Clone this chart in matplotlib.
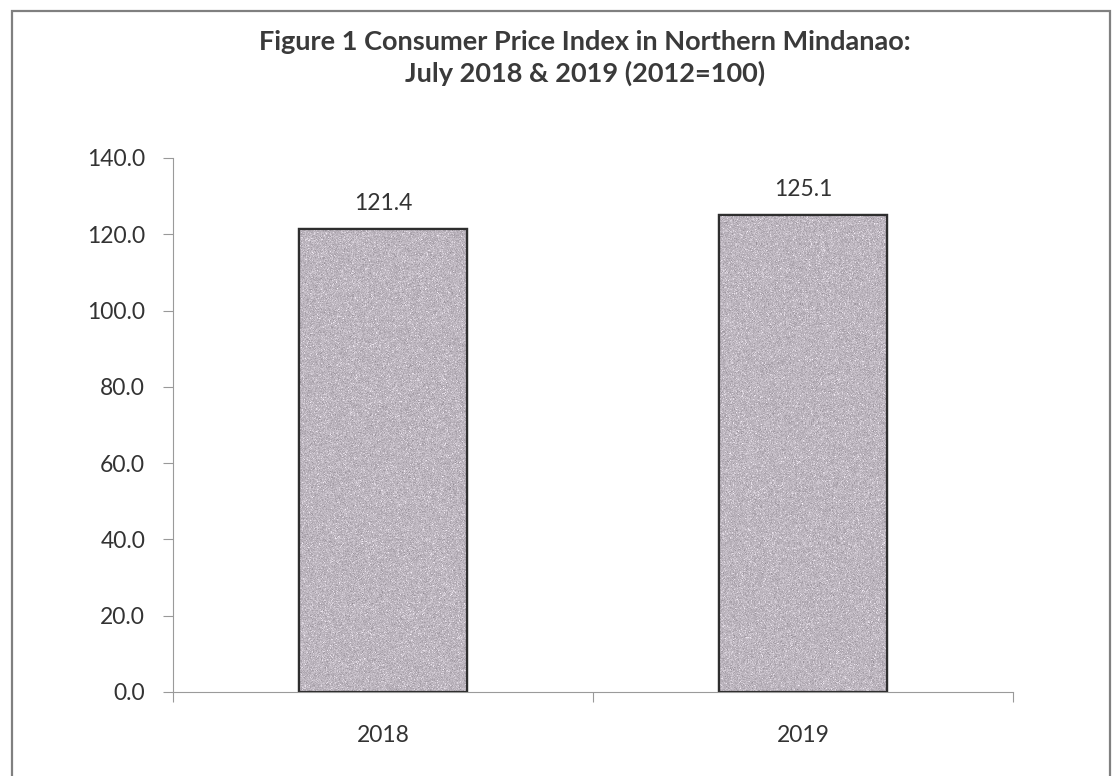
import numpy as np
import matplotlib
matplotlib.use("Agg")
import matplotlib.pyplot as plt
from matplotlib.patches import Rectangle

# Data
years = ["2018", "2019"]
cpi_values = [121.4, 125.1]
y_ticks = [0, 20, 40, 60, 80, 100, 120, 140]
title_text = "Figure 1 Consumer Price Index in Northern Mindanao:\nJuly 2018 & 2019 (2012=100)"

plt.rcParams["font.family"] = ["Lato", "DejaVu Sans"]

fig = plt.figure(figsize=(11.13, 7.76), dpi=100)
fig.patch.set_facecolor("white")

# Chart frame
fig.patches.append(Rectangle((12 / 1113, -0.02), 1098 / 1113, 1.02 - 11 / 776,
                             transform=fig.transFigure, fill=False,
                             edgecolor="#808080", linewidth=1.6, zorder=0))

ax = fig.add_axes([173 / 1113, 84 / 776, 840 / 1113, 534 / 776])

x = np.arange(len(years))
bar_width = 0.4
bars = ax.bar(x, cpi_values, width=bar_width, color="#bcb6be",
              edgecolor="#2e2e2e", linewidth=1.6, zorder=2)

# Fine grain texture inside each bar
rng = np.random.default_rng(7)
base = np.array([188, 181, 190]) / 255.0
for rect in bars:
    shape = (470, 170)
    noise = rng.normal(0.0, 1.0, shape)
    speck = rng.random(shape) > 0.93
    tex = np.empty(shape + (3,))
    for c in range(3):
        tex[..., c] = base[c] + 0.045 * noise
    tex[speck] += 0.12
    tex = np.clip(tex, 0, 1)
    x0, y0 = rect.get_x(), rect.get_y()
    im = ax.imshow(tex, extent=(x0, x0 + rect.get_width(), y0, y0 + rect.get_height()),
                   aspect="auto", interpolation="nearest", zorder=2.5)
    im.set_clip_path(rect)
    ax.add_patch(Rectangle((x0, y0), rect.get_width(), rect.get_height(), fill=False,
                           edgecolor="#2e2e2e", linewidth=1.6, zorder=3))

# Value labels
for xi, v in zip(x, cpi_values):
    ax.annotate(f"{v:.1f}", (xi, v), xytext=(0, 11), textcoords="offset points",
                ha="center", va="bottom", fontsize=16.5, color="#333333")

ax.set_xlim(-0.5, len(years) - 0.5)
ax.set_ylim(0, 140)
ax.set_yticks(y_ticks)
ax.set_yticklabels([f"{t:.1f}" for t in y_ticks])

# Category boundaries as tick marks, labels centred under the bars
ax.set_xticks(np.arange(len(years) + 1) - 0.5)
ax.set_xticklabels([])
ax.set_xticks(x, minor=True)
ax.set_xticklabels(years, minor=True)
ax.tick_params(axis="x", which="major", length=7, width=0.8, color="#999999", direction="out")
ax.tick_params(axis="x", which="minor", length=0, pad=24, labelsize=16.5, labelcolor="#333333")
ax.tick_params(axis="y", length=7, width=0.8, color="#999999", pad=13,
               labelsize=16.5, labelcolor="#333333")

for side in ["top", "right"]:
    ax.spines[side].set_visible(False)
for side in ["left", "bottom"]:
    ax.spines[side].set_color("#9a9a9a")
    ax.spines[side].set_linewidth(0.8)

fig.text(585 / 1113, 1 - 58 / 776, title_text, ha="center", va="center",
         fontsize=19.5, fontweight="bold", color="#3a3a3a", linespacing=1.3)

fig.savefig("out.png", dpi=100, facecolor="white")
